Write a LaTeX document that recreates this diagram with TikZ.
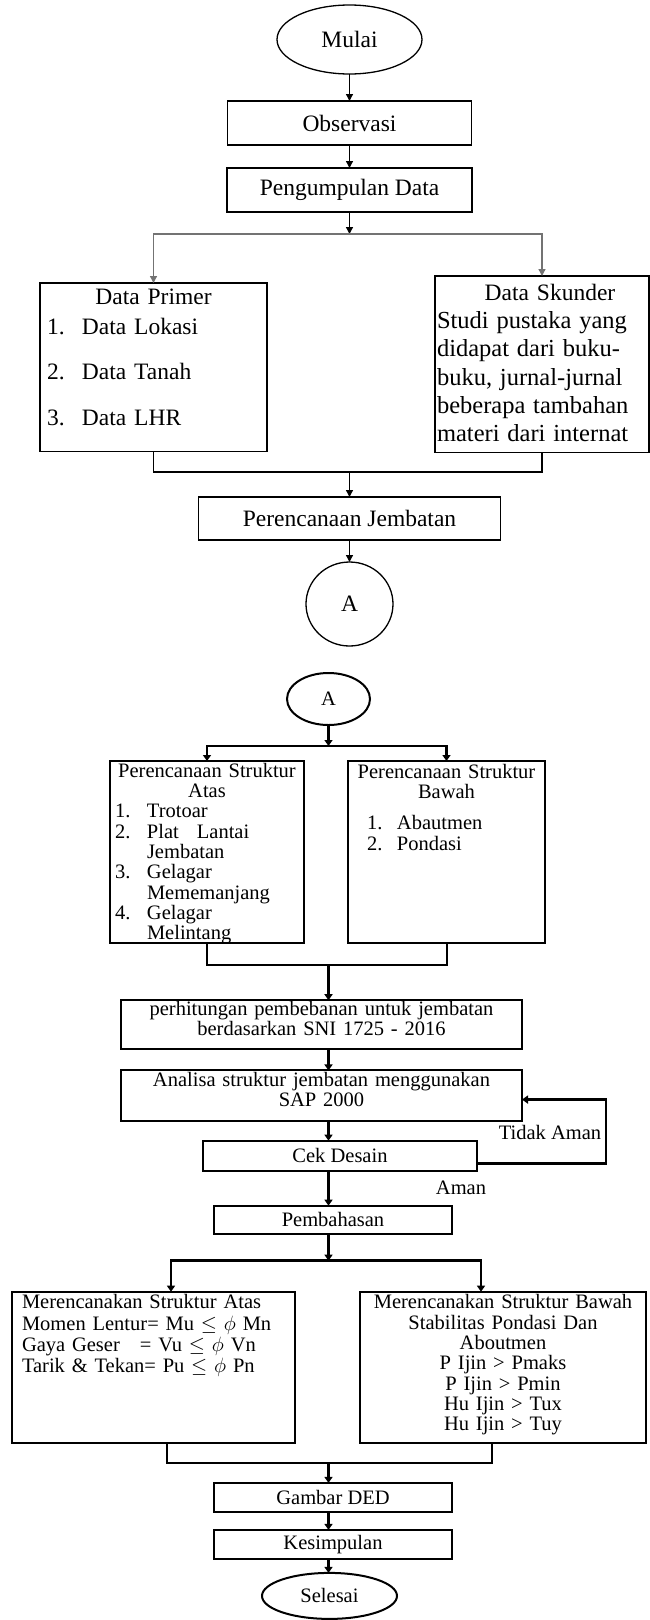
\documentclass[tikz,border=0pt]{standalone}
\usepackage{fontspec}
\setmainfont{Liberation Serif}
\usepackage{tikz}
\usetikzlibrary{arrows.meta,positioning,shapes.geometric}
\newcommand{\bigtxt}{\fontsize{23.5}{28}\selectfont}
\newcommand{\smltxt}{\fontsize{20.5}{20.3}\selectfont}

\begin{document}
\begin{tikzpicture}[
  box/.style={draw,line width=1.3pt,inner sep=0pt,outer sep=0pt,align=center,font=\bigtxt},
  term/.style={draw,ellipse,line width=1.3pt,inner sep=0pt,outer sep=0pt,font=\bigtxt},
  arr/.style={-{Triangle[length=7pt,width=7pt]},line width=1.3pt},
  link/.style={line width=1.3pt},
  boxb/.style={draw,line width=2pt,inner sep=0pt,outer sep=0pt,align=center,font=\smltxt},
  termb/.style={draw,ellipse,line width=2pt,inner sep=0pt,outer sep=0pt,font=\smltxt},
  arrb/.style={-{Triangle[length=6pt,width=8pt]},line width=2.4pt},
  linkb/.style={line width=2pt},
  lbl/.style={inner sep=0pt,outer sep=0pt,font=\smltxt}
]
\useasboundingbox (0pt,0pt) rectangle (650pt,-1620pt);

\node[term,minimum width=145pt,minimum height=69pt] (mulai) at (349.5pt,-39.5pt) {Mulai};
\node[box,minimum width=244pt,minimum height=44pt,below=27pt of mulai] (obs) {Observasi};
\node[box,minimum width=245pt,minimum height=44pt,below=23pt of obs] (peng) {Pengumpulan Data};
\node[box,align=left,text width=213pt,inner xsep=7pt,inner ysep=6pt,text depth=141pt,below=71pt of peng,xshift=-196pt] (primer) {{\centering Data Primer\par}\vspace{2pt}
  \makebox[35pt][l]{1.}Data Lokasi\par\vspace{17pt}
  \makebox[35pt][l]{2.}Data Tanah\par\vspace{18pt}
  \makebox[35pt][l]{3.}Data LHR};
\node[box,align=left,text width=210pt,inner xsep=2pt,inner ysep=8pt,text depth=144pt,below=64pt of peng,xshift=192.5pt] (skunder) {{\centering\hspace*{16pt}Data Skunder\par}
  \fontsize{24.5}{28.3}\selectfont Studi pustaka yang\\ didapat dari buku-\\ buku, jurnal-jurnal\\ beberapa tambahan\\ materi dari internat};
\node[box,minimum width=302pt,minimum height=43pt,below=285pt of peng] (jemb) {Perencanaan Jembatan};
\node[term,minimum width=87pt,minimum height=84pt,below=22pt of jemb] (ca) {A};

\node[termb,minimum width=83pt,minimum height=52pt,below=27pt of ca,xshift=-21pt] (cb) {A};
\node[boxb,align=left,text width=184pt,inner xsep=5pt,inner ysep=2pt,text depth=164pt,below=36pt of cb,xshift=-121.5pt] (atas) {{\centering Perencanaan Struktur\\ Atas\par}
  \makebox[32pt][l]{1.}Trotoar\\
  \makebox[32pt][l]{2.}Plat\hspace{18pt}Lantai\\
  \hspace*{32pt}Jembatan\\
  \makebox[32pt][l]{3.}Gelagar\\
  \hspace*{32pt}Mememanjang\\
  \makebox[32pt][l]{4.}Gelagar\\
  \hspace*{32pt}Melintang};
\node[boxb,align=left,text width=191pt,inner xsep=3pt,inner ysep=3pt,text depth=162pt,right=44pt of atas] (bawah) {{\centering Perencanaan Struktur\\ Bawah\par}\vspace{11pt}
  \hspace*{16pt}\makebox[30pt][l]{1.}Abautmen\\
  \hspace*{16pt}\makebox[30pt][l]{2.}Pondasi};
\node[boxb,text width=401pt,inner xsep=0pt,inner ysep=1pt,text depth=33pt,below=57pt of atas,xshift=114.5pt] (hitung) {perhitungan pembebanan untuk jembatan\\ berdasarkan SNI 1725 - 2016};
\node[boxb,text width=401pt,inner xsep=0pt,inner ysep=2pt,text depth=32pt,below=21pt of hitung] (analisa) {Analisa struktur jembatan menggunakan\\ SAP 2000};
\node[boxb,minimum width=274pt,minimum height=30pt,below=20pt of analisa,xshift=18.5pt] (cek) {Cek Desain};
\node[boxb,minimum width=238pt,minimum height=28pt,below=35pt of cek,xshift=-7pt] (pemb) {Pembahasan};
\node[boxb,align=left,text width=263pt,inner xsep=10pt,inner ysep=3pt,text depth=131pt,font={\fontsize{20.5}{21.3}\selectfont},below=58pt of pemb,xshift=-179.5pt] (mra) {Merencanakan Struktur Atas\\ Momen Lentur= Mu $\leq$ $\phi$ Mn\\ Gaya Geser\hspace{20pt}= Vu $\leq$ $\phi$ Vn\\ Tarik \& Tekan= Pu $\leq$ $\phi$ Pn};
\node[boxb,text width=282pt,inner xsep=2pt,inner ysep=3pt,text depth=131pt,right=65pt of mra] (mrb) {Merencanakan Struktur Bawah\\ Stabilitas Pondasi Dan\\ Aboutmen\\ P Ijin > Pmaks\\ P Ijin > Pmin\\ Hu Ijin > Tux\\ Hu Ijin > Tuy};
\node[boxb,minimum width=238pt,minimum height=29pt,below=40pt of mra,xshift=179.5pt] (gambar) {Gambar DED};
\node[boxb,minimum width=238pt,minimum height=29pt,below=18pt of gambar] (kesim) {Kesimpulan};
\node[termb,minimum width=135pt,minimum height=46pt,below=14pt of kesim,xshift=-3.5pt] (selesai) {Selesai};
\node[lbl,below=5pt of analisa.south east,xshift=28pt] (tidak) {Tidak Aman};
\node[lbl,below=10pt of cek.south east,xshift=-16pt] (aman) {Aman};

\coordinate[below=22pt of peng] (b1);
\coordinate[above=25pt of jemb] (j1);
\coordinate[below=21pt of cb] (b2);
\coordinate[above=35pt of hitung] (j2);
\coordinate[below=27pt of pemb] (b3);
\coordinate[above=20pt of gambar] (j3);

\draw[arr] (mulai) -- (obs);
\draw[arr] (obs) -- (peng);
\draw[arr] (peng) -- (b1);
\draw[arr,draw=black!55] (b1) -| (primer);
\draw[arr,draw=black!55] (b1) -| (skunder);
\draw[link] (primer) |- (j1) -| (skunder);
\draw[arr] (j1) -- (jemb);
\draw[arr] (jemb) -- (ca);

\draw[arrb] (cb) -- (b2);
\draw[arrb] (b2) -| (atas);
\draw[arrb] (b2) -| (bawah);
\draw[linkb] (atas) |- (j2 -| cb) -| (bawah);
\draw[arrb] (j2 -| cb) -- (hitung.north -| cb);
\draw[arrb] (hitung.south -| cb) -- (analisa.north -| cb);
\draw[arrb] (analisa.south -| cb) -- (cek.north -| cb);
\draw[arrb] ([yshift=-8pt]cek.east) -- ++(129pt,0) |- ([yshift=-4pt]analisa.east);
\draw[arrb] (cek.south -| cb) -- (pemb.north -| cb);
\draw[arrb] (pemb.south -| cb) -- (b3 -| cb);
\draw[arrb] (b3 -| cb) -| ([xshift=17.5pt]mra.north);
\draw[arrb] (b3 -| cb) -| ([xshift=-22pt]mrb.north);
\draw[linkb] ([xshift=13.5pt]mra.south) |- (j3 -| cb) -| ([xshift=-11pt]mrb.south);
\draw[arrb] (j3 -| cb) -- (gambar.north -| cb);
\draw[arrb] (gambar.south -| cb) -- (kesim.north -| cb);
\draw[arrb] (kesim.south -| cb) -- (selesai.north -| cb);
\end{tikzpicture}
\end{document}
